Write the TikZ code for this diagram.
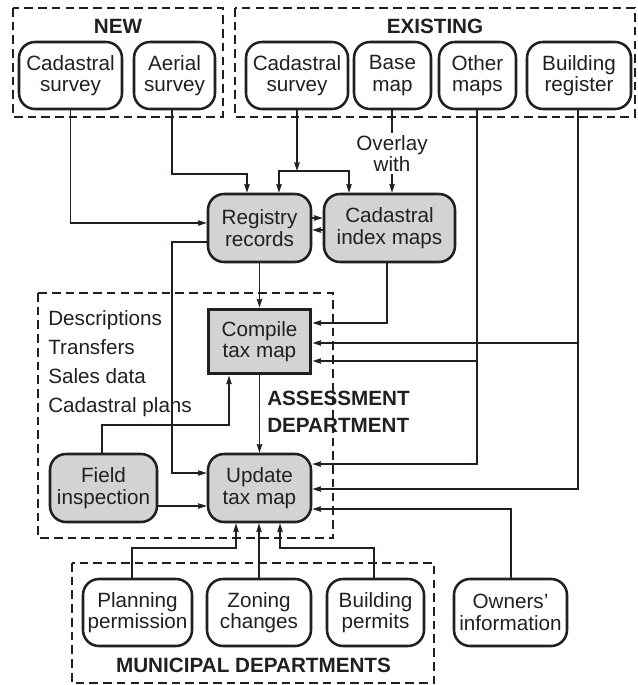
\documentclass[tikz,border=0pt]{standalone}
\usepackage{fontspec}
\setmainfont{Liberation Sans}
\usetikzlibrary{arrows.meta}
\definecolor{ink}{RGB}{35,31,32}
\definecolor{fillg}{RGB}{210,211,213}
\begin{document}
\begin{tikzpicture}[x=0.75pt,y=-0.75pt, color=ink,
  txt/.style={font=\fontsize{15.5}{16}\selectfont},
  sz/.style 2 args={minimum width=#1*0.75pt, minimum height=#2*0.75pt},
  box/.style={txt, draw, line width=1.9pt, rounded corners=12pt, align=center, inner sep=1pt},
  gbox/.style={box, fill=fillg},
  rbox/.style={txt, draw, line width=2.8pt, fill=fillg, align=center, inner sep=1pt},
  group/.style={draw, line width=1.7pt, dash pattern=on 6.5pt off 3.8pt},
  head/.style={font=\bfseries\fontsize{15.5}{20.25}\selectfont, inner sep=0pt},
  arr/.style={line width=1.35pt, -{Stealth[length=6.5pt,width=4pt,inset=0.6pt]}},
  con/.style={line width=1.35pt}
]
\useasboundingbox (0,0) rectangle (637,685);

% group frames
\draw[group] (13,8) rectangle (223,117);
\draw[group] (235,8) rectangle (635,117);
\draw[group] (38,293) rectangle (333,538);
\draw[group] (72,563) rectangle (434,683);

% group labels
\node[head] (lnew) at (118,26) {NEW};
\node[head] (lexist) at (435,26) {EXISTING};
\node[head, anchor=west, align=left] (lassess) at (267,411.5) {ASSESSMENT\\DEPARTMENT};
\node[head] (lmuni) at (253.5,665) {MUNICIPAL DEPARTMENTS};

% source boxes
\node[box, sz={103}{67}] (ncad) at (70.5,75.5) {Cadastral\\survey};
\node[box, sz={81}{67}] (naer) at (174.5,75.5) {Aerial\\survey};
\node[box, sz={102}{67}] (ecad) at (297,75.5) {Cadastral\\survey};
\node[box, sz={77}{67}] (base) at (392.5,75.5) {Base\\map};
\node[box, sz={77}{67}] (other) at (477.5,75.5) {Other\\maps};
\node[box, sz={104}{67}] (bldg) at (579,75.5) {Building\\register};

% process boxes
\node[gbox, sz={103}{68}] (reg) at (259.5,228) {Registry\\records};
\node[gbox, sz={131}{68}] (cim) at (389.5,228) {Cadastral\\index maps};
\node[rbox, sz={102}{64}] (comp) at (259.5,341.5) {Compile\\tax map};
\node[gbox, sz={103}{68}] (upd) at (259.5,488) {Update\\tax map};
\node[gbox, sz={107}{68}] (field) at (103.5,488) {Field\\inspection};

% bottom boxes
\node[box, sz={109}{67}] (plan) at (137.5,612.5) {Planning\\permission};
\node[box, sz={104}{67}] (zon) at (259,612.5) {Zoning\\changes};
\node[box, sz={97}{67}] (bper) at (375.5,612.5) {Building\\permits};
\node[box, sz={113}{67}] (own) at (510.5,612.5) {Owners’\\information};

% text list
\node[txt, anchor=base west, inner sep=0pt] (d1) at (48,325.5) {Descriptions};
\node[txt, anchor=base west, inner sep=0pt] (d2) at (48,354.5) {Transfers};
\node[txt, anchor=base west, inner sep=0pt] (d3) at (48,383.5) {Sales data};
\node[txt, anchor=base west, inner sep=0pt] (d4) at (48,412.5) {Cadastral plans};

\node[txt, align=center, inner sep=1.5pt] (ovl) at (392,153.5) {Overlay\\with};

% connectors
\draw[arr] (ncad.south) |- (reg.west |- 0,223);
\coordinate (a1) at (247,174);
\draw[arr] (172,0 |- naer.south) |- (a1) -- (a1 |- reg.north);
\coordinate (j0) at (297,171);
\coordinate (j1) at (279,171);
\coordinate (j2) at (349,171);
\draw[arr] (ecad.south) -- (j0);
\draw[arr] (j0) -| (j1 |- reg.north);
\draw[arr] (j0) -| (j2 |- cim.north);
\draw[con] (ovl.north |- base.south) -- (ovl.north);
\draw[arr] (ovl.south) -- (ovl.south |- cim.north);
\draw[arr] (reg.east |- 0,218) -- (cim.west |- 0,218);
\draw[arr] (cim.west |- 0,230) -- (reg.east |- 0,230);
\draw[arr] (reg.south) -- (comp.north);
\draw[arr] (387,0 |- cim.south) |- (comp.east |- 0,323);
\draw[arr] (reg.west |- 0,242) -| (172,473) -- (upd.west |- 0,473);
\draw[arr] (comp.south) -- (upd.north);
\coordinate (fc) at (229,425);
\draw[arr] (102,0 |- field.north) |- (fc) -- (fc |- comp.south);
\draw[arr] (field.east |- 0,506) -- (upd.west |- 0,506);
\draw[arr] (477,0 |- other.south) |- (upd.east |- 0,464);
\coordinate (ob) at (477,361);
\draw[arr] (ob) -- (comp.east |- ob);
\draw[arr] (578,0 |- bldg.south) |- (upd.east |- 0,489);
\coordinate (bb) at (578,343);
\draw[arr] (bb) -- (comp.east |- bb);
\draw[arr] (511,0 |- own.north) |- (upd.east |- 0,509);
\coordinate (pj) at (236,548);
\draw[arr] (132,0 |- plan.north) |- (pj) -- (pj |- upd.south);
\draw[arr] (zon.north) -- (zon.north |- upd.south);
\coordinate (bj) at (280,548);
\draw[arr] (374,0 |- bper.north) |- (bj) -- (bj |- upd.south);
\end{tikzpicture}
\end{document}
